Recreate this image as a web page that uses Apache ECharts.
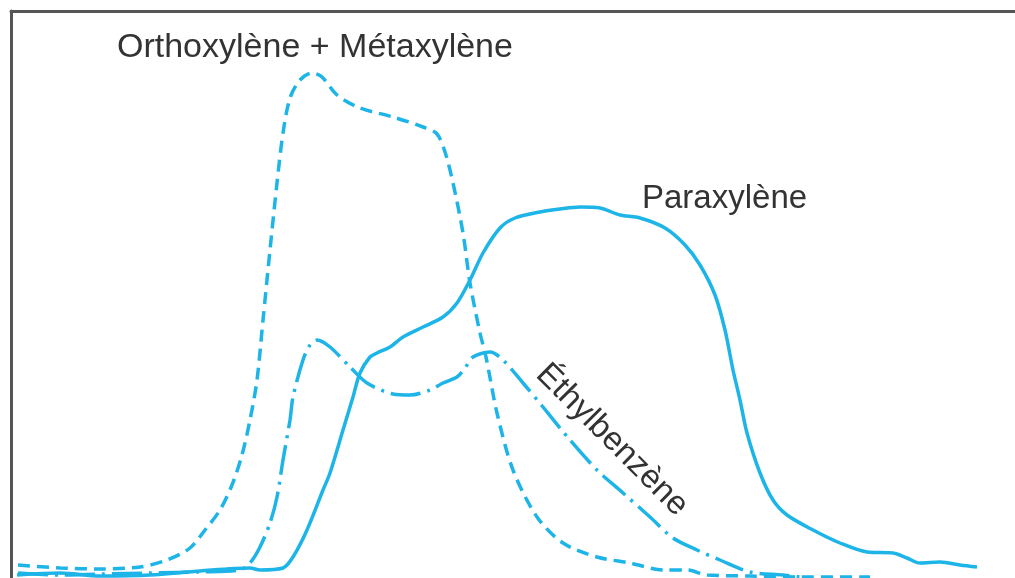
<!DOCTYPE html>
<html>
<head>
<meta charset="utf-8">
<script src="https://cdn.jsdelivr.net/npm/echarts@6/dist/echarts.min.js"></script>
<style>
html,body{margin:0;padding:0;background:#fff;}
#chart{width:1015px;height:578px;}
</style>
</head>
<body>
<div id="chart"></div>
<script>
// Series data: [time, signal]
const orthoMeta = [[7,13],[49,10],[89,9],[129,11],[156,18],[179,30],[194,48],[209,68],[221,93],[231,123],[239,158],[246,198],[252,258],[259,328],[266,395],[272,445],[279,480],[289,498],[301,505],[311,501],[326,483],[349,470],[382,461],[412,451],[426,444],[434,426],[442,395],[452,345],[459,295],[469,245],[475,221],[486,165],[502,108],[526,61],[552,35],[586,21],[619,15],[652,8],[676,8],[696,3],[739,2],[789,1],[859,1]];
const ethylbenzene = [[7,5],[49,3],[89,4],[139,5],[189,6],[229,8],[239,15],[249,31],[259,55],[266,81],[272,118],[279,158],[282,181],[292,218],[299,233],[306,238],[319,231],[339,211],[356,195],[382,184],[399,183],[419,188],[432,195],[446,201],[454,210],[462,221],[479,226],[492,218],[512,195],[532,171],[559,138],[586,108],[612,85],[639,61],[662,40],[686,28],[709,18],[739,6],[772,3],[789,1]];
const paraxylene = [[6,3],[49,5],[89,2],[139,3],[189,7],[239,10],[249,8],[272,10],[282,21],[296,48],[312,88],[319,105],[332,148],[342,181],[349,205],[359,221],[366,225],[379,231],[392,241],[412,251],[432,261],[446,275],[459,298],[472,325],[489,350],[504,360],[529,366],[549,369],[569,371],[589,370],[609,363],[629,360],[654,350],[674,333],[689,313],[704,283],[714,248],[722,208],[729,178],[736,145],[749,105],[762,78],[776,63],[802,48],[829,35],[856,26],[882,25],[896,20],[909,15],[929,16],[949,13],[966,11]];
const labels = ['Orthoxylène + Métaxylène', 'Paraxylène', 'Éthylbenzène'];

const cyan = '#1db4e8';
const chart = echarts.init(document.getElementById('chart'));
const fontFam = '"Liberation Sans", Arial, Helvetica, sans-serif';
chart.setOption({
  animation: false,
  backgroundColor: '#fff',
  grid: {left: 11, top: 11, right: 0, bottom: 0, containLabel: false},
  xAxis: {
    type: 'value', min: 0, max: 1004, position: 'top',
    axisLine: {show: true, onZero: false, lineStyle: {color: '#555', width: 3}},
    axisTick: {show: false}, axisLabel: {show: false}, splitLine: {show: false}
  },
  yAxis: {
    type: 'value', min: 0, max: 567,
    axisLine: {show: true, onZero: false, lineStyle: {color: '#555', width: 3}},
    axisTick: {show: false}, axisLabel: {show: false}, splitLine: {show: false}
  },
  series: [
    {name: labels[0], type: 'line', data: orthoMeta, smooth: 0.3, symbol: 'none',
     lineStyle: {color: cyan, width: 3.5, type: [12, 7]}},
    {name: labels[2], type: 'line', data: ethylbenzene, smooth: 0.3, symbol: 'none',
     lineStyle: {color: cyan, width: 3.5, type: [30, 7, 3, 7]}},
    {name: labels[1], type: 'line', data: paraxylene, smooth: 0.3, symbol: 'none',
     lineStyle: {color: cyan, width: 3.5}}
  ],
  graphic: [
    {type: 'text', left: 117, top: 31, style: {text: labels[0], font: '34px ' + fontFam, fill: '#333'}},
    {type: 'text', left: 642, top: 182, style: {text: labels[1], font: '33px ' + fontFam, fill: '#333'}},
    {type: 'text', x: 612, y: 440, rotation: -Math.PI / 4,
     style: {text: labels[2], font: '33px ' + fontFam, fill: '#333', align: 'center', verticalAlign: 'middle'}}
  ]
});
</script>
</body>
</html>
